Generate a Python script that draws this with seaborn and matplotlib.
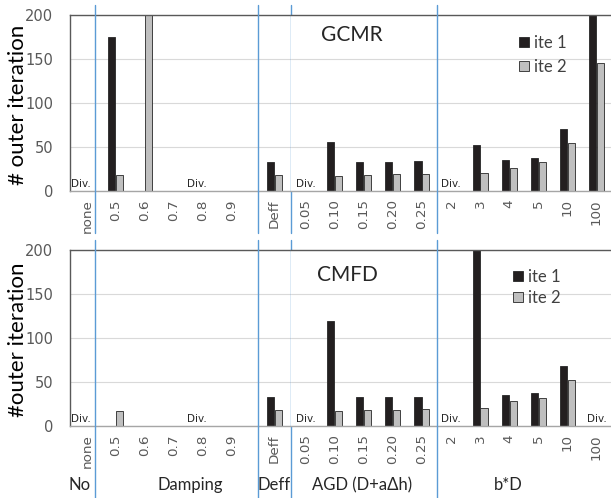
import numpy as np
import pandas as pd
import matplotlib
matplotlib.use("Agg")
import matplotlib.pyplot as plt
from matplotlib.patches import Patch
import seaborn as sns

# ---------------- data ----------------
no_cats = ["none"]
damping_cats = ["0.5", "0.6", "0.7", "0.8", "0.9"]
deff_cats = ["Deff"]
agd_cats = ["0.05", "0.10", "0.15", "0.20", "0.25"]
bd_cats = ["2", "3", "4", "5", "10", "100"]
series = ["ite 1", "ite 2"]

nan = np.nan
gcmr_ite1 = [nan, 175, nan, nan, nan, nan, 33, nan, 56, 33, 33, 34, nan, 52, 35, 37, 70, 200]
gcmr_ite2 = [nan, 18, 200, nan, nan, nan, 18, nan, 17, 18, 19, 19, nan, 21, 26, 33, 54, 146]
cmfd_ite1 = [nan, nan, nan, nan, nan, nan, 33, nan, 119, 33, 33, 33, nan, 200, 35, 37, 68, nan]
cmfd_ite2 = [nan, 17, nan, nan, nan, nan, 18, nan, 17, 18, 18, 19, nan, 20, 28, 32, 52, nan]

group_labels = ["No", "Damping", "Deff", "AGD (D+a\u0394h)", "b*D"]
panel_titles = ["GCMR", "CMFD"]
ylabels = ["# outer iteration", "#outer iteration"]
div_label = "Div."
yticks = [0, 50, 100, 150, 200]

# ---------------- style ----------------
sns.set_theme(style="white")
plt.rcParams['font.family'] = ['DejaVu Sans']
LABEL_FONT = ['Lato', 'DejaVu Sans']
BLUE = "#5B9BD5"
palette = {"ite 1": "#231F20", "ite 2": "#BFBFBF"}
EDGE = "#262626"

W, H = 611, 498
fig = plt.figure(figsize=(W / 100, H / 100), dpi=100)


def add_ax(x0, x1, ytop, ybot):
    return fig.add_axes([x0 / W, 1 - ybot / H, (x1 - x0) / W, (ybot - ytop) / H])


panels = [(15, 191), (250, 426)]
xspans = [(70, 258), (258, 291), (291, 611)]
group_cats = [no_cats + damping_cats, deff_cats, agd_cats + bd_cats]
all_cats = no_cats + damping_cats + deff_cats + agd_cats + bd_cats
xlims = [(-0.58, 5.9), (-0.57, 0.57), (-0.5, 10.5)]
blue_extent = [(-0.239, 1.057), (-0.409, 1.057)]
div_positions = [
    [(0, -0.2), (0, 3.8), (2, 0), (2, 5)],
    [(0, -0.2), (0, 3.8), (2, 0), (2, 5), (2, 10)],
]
title_pos = [(0.19, 0.886), (0.175, 0.858)]
legend_pos = [(0.6875, 0.935), (0.669, 0.94)]
legend_spacing = [0.5, 0.3]

data = [(gcmr_ite1, gcmr_ite2), (cmfd_ite1, cmfd_ite2)]

for p, ((ytop, ybot), (s1, s2)) in enumerate(zip(panels, data)):
    n = len(all_cats)
    df = pd.DataFrame({
        "category": all_cats * 2,
        "series": [series[0]] * n + [series[1]] * n,
        "value": list(s1) + list(s2),
    }).dropna()
    axes = []
    for g, (x0, x1) in enumerate(xspans):
        ax = add_ax(x0, x1, ytop, ybot)
        sub = df[df["category"].isin(group_cats[g])]
        sns.barplot(data=sub, x="category", y="value", hue="series",
                    order=group_cats[g], hue_order=series, palette=palette,
                    width=0.54, gap=0.1, dodge=True, edgecolor=EDGE, linewidth=0.6,
                    saturation=1, errorbar=None, legend=False, ax=ax)
        ax.set_ylim(0, 200)
        ax.set_xlim(*xlims[g])
        ax.set_xlabel("")
        ax.set_ylabel("")
        ax.set_yticks(yticks)
        ax.yaxis.grid(True, color="#D9D9D9", lw=0.8)
        ax.xaxis.grid(False)
        ax.set_axisbelow(True)
        ax.spines["right"].set_visible(False)
        ax.spines["top"].set_color("#595959")
        ax.spines["top"].set_linewidth(1.0)
        ax.spines["bottom"].set_color("#A6A6A6")
        ax.spines["bottom"].set_linewidth(1.0)
        if g == 0:
            ax.spines["left"].set_color("#595959")
            ax.spines["left"].set_linewidth(1.0)
            ax.tick_params(axis="y", labelsize=10.5, labelcolor="#595959", length=0, pad=12)
            ax.set_ylabel(ylabels[p], fontsize=16, family=LABEL_FONT, color="black")
            ax.yaxis.set_label_coords(-0.225, 0.49)
        else:
            ax.spines["left"].set_visible(False)
            ax.tick_params(axis="y", labelleft=False, length=0)
        ax.tick_params(axis="x", labelsize=9.7, labelcolor="#595959", length=0,
                       pad=6, labelrotation=90)
        axes.append(ax)

    # blue separators
    ymin, ymax = blue_extent[p]
    kw = dict(color=BLUE, lw=1.0, clip_on=False, zorder=5)
    axes[0].axvline(0.28, ymin, ymax, **kw)
    axes[1].axvline(xlims[1][0], ymin, ymax, **kw)
    axes[1].axvline(xlims[1][1], ymin, ymax, **kw)
    axes[2].axvline(4.52, ymin, ymax, **kw)

    # Div. labels
    for g, x in div_positions[p]:
        axes[g].text(x, 2, div_label, ha="center", va="bottom", fontsize=7.5,
                     color="#262626")

    # panel title
    axes[2].text(*title_pos[p], panel_titles[p], transform=axes[2].transAxes,
                 ha="center", va="center", fontsize=15, family=LABEL_FONT)

    # legend
    handles = [Patch(facecolor=palette[s], edgecolor=EDGE, lw=0.6) for s in series]
    axes[2].legend(handles, series, loc="upper left", bbox_to_anchor=legend_pos[p],
                   frameon=False, borderpad=0, handlelength=0.55, handleheight=0.55,
                   handletextpad=0.3, labelspacing=legend_spacing[p],
                   prop={"family": LABEL_FONT, "size": 12}, labelcolor="#404040")

# group labels along the bottom
group_x = [80, 190, 274, 362, 508]
for lab, x in zip(group_labels, group_x):
    fig.text(x / W, 1 - 485 / H, lab, ha="center", va="center", fontsize=12,
             family=LABEL_FONT)

fig.savefig("out.png", dpi=100)
